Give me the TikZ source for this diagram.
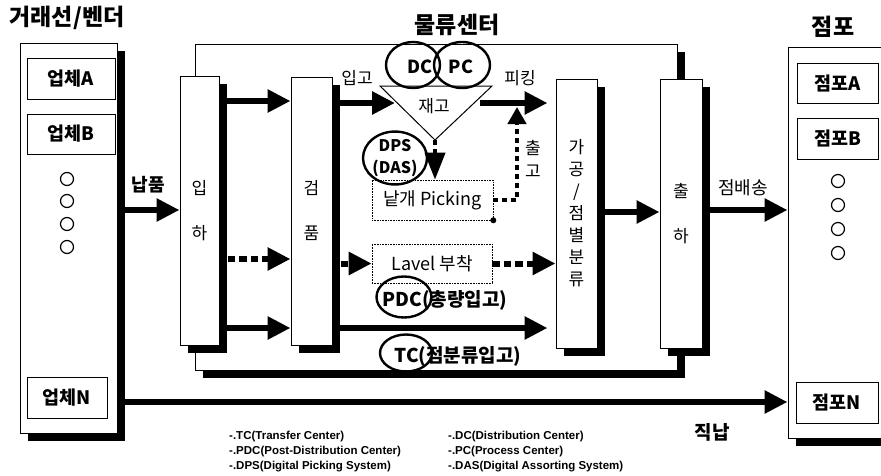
\documentclass[tikz,border=0pt]{standalone}
\usepackage{fontspec}
\setmainfont{Noto Sans CJK KR}
\newfontfamily\legendfont{Liberation Sans}
\usetikzlibrary{arrows.meta,positioning,shapes.geometric,shadows,calc}

\begin{document}
\begin{tikzpicture}[
  x=1pt, y=-1pt,
  title/.style={font=\fontsize{23}{26}\selectfont\bfseries},
  panel/.style={draw, line width=1pt, fill=white, inner sep=0pt},
  shadowed/.style={drop shadow={shadow xshift=8pt, shadow yshift=-8pt, fill=black, opacity=1}},
  box/.style={panel, font=\fontsize{18.5}{20}\selectfont\bfseries},
  col/.style={panel, shadowed, align=center, minimum width=41pt, minimum height=269pt, font=\fontsize{17}{45}\selectfont},
  dotbox/.style={draw, line width=0.6pt, densely dotted, fill=white, minimum width=121pt, minimum height=40pt, font=\fontsize{18}{20}\selectfont},
  tag/.style={draw, ellipse, line width=2.4pt, inner sep=0pt},
  ring/.style={circle, draw, line width=1.2pt, minimum size=13pt, inner sep=0pt},
  lbl/.style={font=\fontsize{17}{19}\selectfont},
  blbl/.style={font=\fontsize{19}{21}\selectfont\bfseries},
  note/.style={font=\legendfont\fontsize{11.5}{13}\selectfont\bfseries, inner sep=0pt},
  arrow/.style={-{Triangle[length=23pt,width=22pt]}, line width=6pt},
  dotarrow/.style={arrow, dash pattern=on 7.5pt off 4pt},
  smallarrow/.style={-{Triangle[length=17pt,width=18pt]}, line width=4.5pt, dash pattern=on 5pt off 4pt}
]
  \useasboundingbox (0,0) rectangle (881,475);
  \clip (0,0) rectangle (881,475);
  \fill[white] (0,0) rectangle (881,475);

  % titles
  \node[title] (vendtitle) at (67,18) {거래선/벤더};
  \node[title] (centtitle) at (457,25) {물류센터};
  \node[title] (storetitle) at (833,27) {점포};

  % vendors
  \node[panel, shadowed, minimum width=97pt, minimum height=390pt] (vendor) at (68.5,238) {};
  \node[box, minimum width=88pt, minimum height=41pt] (firmA) at (71,78.5) {업체A};
  \node[box, minimum width=88pt, minimum height=40pt] (firmB) at (71,134) {업체B};
  \node[box, minimum width=80pt, minimum height=41pt] (firmN) at (67,397.5) {업체N};
  \foreach \y [count=\i] in {179,201,224,247}
    \node[ring] (vring\i) at (67,\y) {};

  % stores
  \node[panel, shadowed, minimum width=107pt, minimum height=391pt] (store) at (841.5,242.5) {};
  \node[box, minimum width=81pt, minimum height=40pt] (storeA) at (837.5,83) {점포A};
  \node[box, minimum width=81pt, minimum height=41pt] (storeB) at (837.5,138.5) {점포B};
  \node[box, minimum width=82pt, minimum height=41pt] (storeN) at (837,402.5) {점포N};
  \foreach \y [count=\i] in {181,205,229,253}
    \node[ring] (sring\i) at (838,\y) {};

  % distribution center
  \node[panel, shadowed, minimum width=482pt, minimum height=326pt] (center) at (436,207) {};
  \node[col, minimum width=39pt] (inha) at (199.5,210.5) {입\\하};
  \node[col, minimum height=268pt] (geom) at (311.5,211) {검\\품};
  \node[col, font=\fontsize{17}{22}\selectfont] (gagong) at (576.5,213.5) {가\\공\\/\\점\\별\\분\\류};
  \node[col, minimum width=42pt] (chulha) at (681,213.5) {출\\하};

  % stock
  \coordinate (triL) at (380,86);
  \coordinate (triR) at (492,86);
  \coordinate (triB) at (435,140);
  \coordinate (stockin) at (395,103);
  \coordinate (stockout) at (480,103);
  \draw[line width=1pt, fill=white] (triL) -- (triR) -- (triB) -- cycle;
  \node[lbl] (stock) at (434,106) {재고};
  \node[tag, minimum width=54pt, minimum height=46pt] (dc) at (413,65) {};
  \node[tag, minimum width=56pt, minimum height=46pt] (pc) at (462,65) {};
  \node[blbl, font=\fontsize{18}{19}\selectfont\bfseries] (dctext) at (420,67) {DC};
  \node[blbl, font=\fontsize{18}{19}\selectfont\bfseries] (pctext) at (461,67) {PC};

  \node[dotbox] (picking) at (432.5,200) {낱개 Picking};
  \node[tag, align=center, font=\fontsize{16}{22}\selectfont\bfseries, minimum width=64pt, minimum height=49pt] (dps) at (395,158) {DPS\\(DAS)};
  \node[dotbox, minimum width=120pt, minimum height=39pt] (lavel) at (432,263.5) {Lavel 부착};
  \node[tag, minimum width=55pt, minimum height=41pt] (pdc) at (404,297) {};
  \node[blbl, anchor=west] (pdctext) at (379,300) {PDC(총량입고)};
  \node[tag, minimum width=52pt, minimum height=37pt] (tc) at (406,353) {};
  \node[blbl, anchor=west] (tctext) at (391,356) {TC(점분류입고)};

  % flow levels
  \coordinate (lv-a) at (0,210);
  \coordinate (lv-b) at (0,101);
  \coordinate (lv-c) at (0,259);
  \coordinate (lv-d) at (0,103);
  \coordinate (lv-e) at (0,328);
  \coordinate (lv-f) at (0,212);
  \coordinate (lv-g) at (0,402);
  \coordinate (outtip) at (517,107);

  \draw[arrow] (vendor.east |- lv-a) -- (inha.west |- lv-a);
  \draw[arrow] (inha.east |- lv-b) -- (geom.west |- lv-b);
  \draw[dotarrow] ($(inha.east |- lv-c)+(8,0)$) -- (geom.west |- lv-c);
  \draw[arrow] (inha.east |- lv-e) -- (geom.west |- lv-e);
  \draw[arrow] (geom.east |- lv-d) -- (stockin);
  \draw[arrow, shorten >=8pt] (stockout) -- (gagong.west |- lv-d);
  \draw[smallarrow, line width=4pt, -{Triangle[length=27pt,width=20pt]}] (triB) -- (picking.north -| triB);
  \draw[smallarrow] (picking.east) -| (outtip);
  \node[circle, fill, inner sep=0pt, minimum size=6pt] (pdot) at (picking.south east) {};
  \draw[dotarrow] ($(geom.east |- lavel.west)+(8,0)$) -- (lavel.west);
  \draw[dotarrow] (lavel.east) -- (gagong.west |- lavel.east);
  \draw[arrow, shorten >=8pt] (geom.east |- lv-e) -- (gagong.west |- lv-e);
  \draw[arrow] (gagong.east |- lv-f) -- (chulha.west |- lv-f);
  \draw[arrow] (chulha.east |- lv-a) -- (store.west |- lv-a);
  \draw[arrow] (vendor.east |- lv-g) -- (store.west |- lv-g);

  % flow labels
  \node[lbl, font=\fontsize{18}{20}\selectfont\bfseries] (deliv) at (148,185) {납품};
  \node[lbl] (inbound) at (357,78) {입고};
  \node[lbl] (pick) at (520,78) {피킹};
  \node[lbl, align=center, font=\fontsize{17}{23}\selectfont] (outlbl) at (533,159) {출\\고};
  \node[lbl, font=\fontsize{18}{20}\selectfont] (toStore) at (743,188) {점배송};
  \node[lbl, font=\fontsize{19}{21}\selectfont\bfseries] (direct) at (712,432) {직납};

  % legend
  \node[note, anchor=west] (lgTC) at (229,437) {-.TC(Transfer Center)};
  \node[note, below=15pt of lgTC.west, anchor=west] (lgPDC) {-.PDC(Post-Distribution Center)};
  \node[note, below=15pt of lgPDC.west, anchor=west] (lgDPS) {-.DPS(Digital Picking System)};
  \node[note, anchor=west] (lgDC) at (448,437) {-.DC(Distribution Center)};
  \node[note, below=15pt of lgDC.west, anchor=west] (lgPC) {-.PC(Process Center)};
  \node[note, below=15pt of lgPC.west, anchor=west] (lgDAS) {-.DAS(Digital Assorting System)};
\end{tikzpicture}
\end{document}
